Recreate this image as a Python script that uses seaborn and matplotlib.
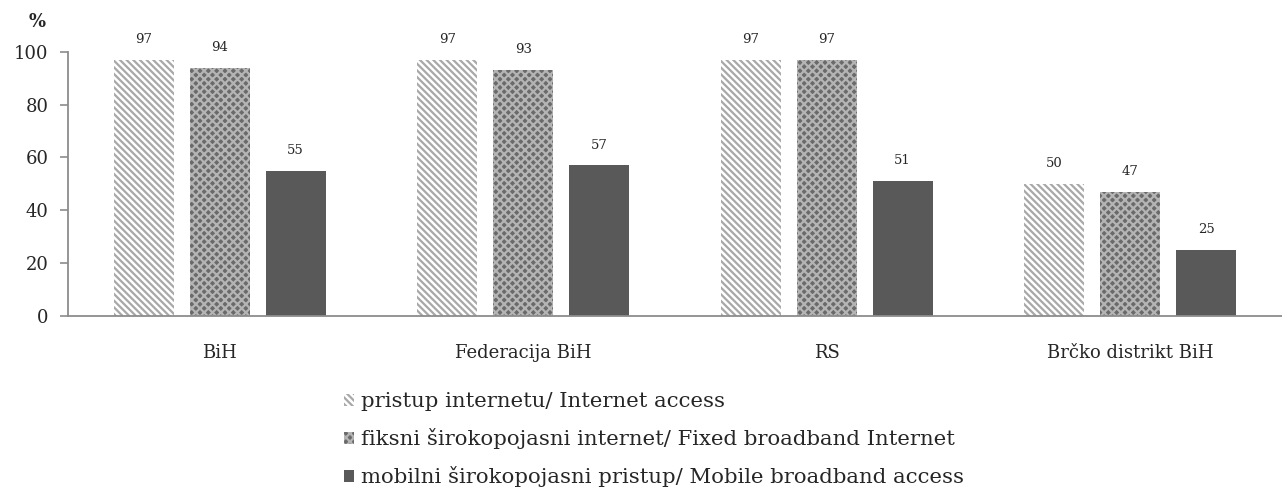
import pandas as pd
import matplotlib
matplotlib.use("Agg")
import matplotlib.pyplot as plt
import seaborn as sns

# data
regije = ["BiH", "Federacija BiH", "RS", "Brčko distrikt BiH"]
serije = ["pristup internetu/ Internet access",
          "fiksni širokopojasni internet/ Fixed broadband Internet",
          "mobilni širokopojasni pristup/ Mobile broadband access"]
pristup = [97, 97, 97, 50]
fiksni = [94, 93, 97, 47]
mobilni = [55, 57, 51, 25]

df = pd.DataFrame({
    "regija": regije * 3,
    "serija": [serije[0]] * 4 + [serije[1]] * 4 + [serije[2]] * 4,
    "vrijednost": pristup + fiksni + mobilni,
})

sns.set_style("white")
plt.rcParams["font.family"] = ["DejaVu Serif"]
plt.rcParams["hatch.linewidth"] = 1.6

fig = plt.figure(figsize=(12.82, 4.99), dpi=100)
ax = fig.add_axes([0.053, 0.367, 0.947, 0.529])

ax = sns.barplot(x="regija", y="vrijednost", hue="serija", data=df,
                 width=0.75, gap=0.21, ax=ax, legend=False)

# stilovi za svaku seriju (face, hatch, boja srafure)
stilovi = [("white", "\\\\\\\\\\", "#a8a8a8"),
           ("#6a6a6a", "xxxx", "#b4b4b4"),
           ("#595959", "", "#595959")]
for cont, (fc, h, hc) in zip(ax.containers, stilovi):
    for bar in cont:
        bar.set_facecolor(fc)
        bar.set_hatch(h)
        bar.set_edgecolor(hc)
        bar.set_linewidth(0)
    ax.bar_label(cont, fontsize=9.5, padding=10)

ax.set_ylim(0, 100)
ax.set_yticks([0, 20, 40, 60, 80, 100])
ax.set_xlim(-0.5, 3.5)
ax.set_xlabel("")
ax.set_ylabel("")
for s in ["top", "right"]:
    ax.spines[s].set_visible(False)
for s in ["left", "bottom"]:
    ax.spines[s].set_color("#8c8c8c")
    ax.spines[s].set_linewidth(1.3)
ax.tick_params(axis="y", left=True, length=6, width=1.2, color="#8c8c8c", labelsize=13, pad=8)
ax.tick_params(axis="x", bottom=False, labelsize=13, pad=17)

fig.text(0.022, 0.945, "%", fontsize=13, fontweight="bold")

# legenda
handles = []
for fc, h, hc in stilovi:
    p = matplotlib.patches.Patch(facecolor=fc, hatch=h, edgecolor=hc, linewidth=0)
    handles.append(p)
fig.legend(handles, serije, loc="upper left", bbox_to_anchor=(0.268, 0.214),
           frameon=False, fontsize=15.3, handlelength=0.5, handleheight=0.5,
           handletextpad=0.3, labelspacing=0.8, borderpad=0, borderaxespad=0)

plt.savefig("out.png", dpi=100)
